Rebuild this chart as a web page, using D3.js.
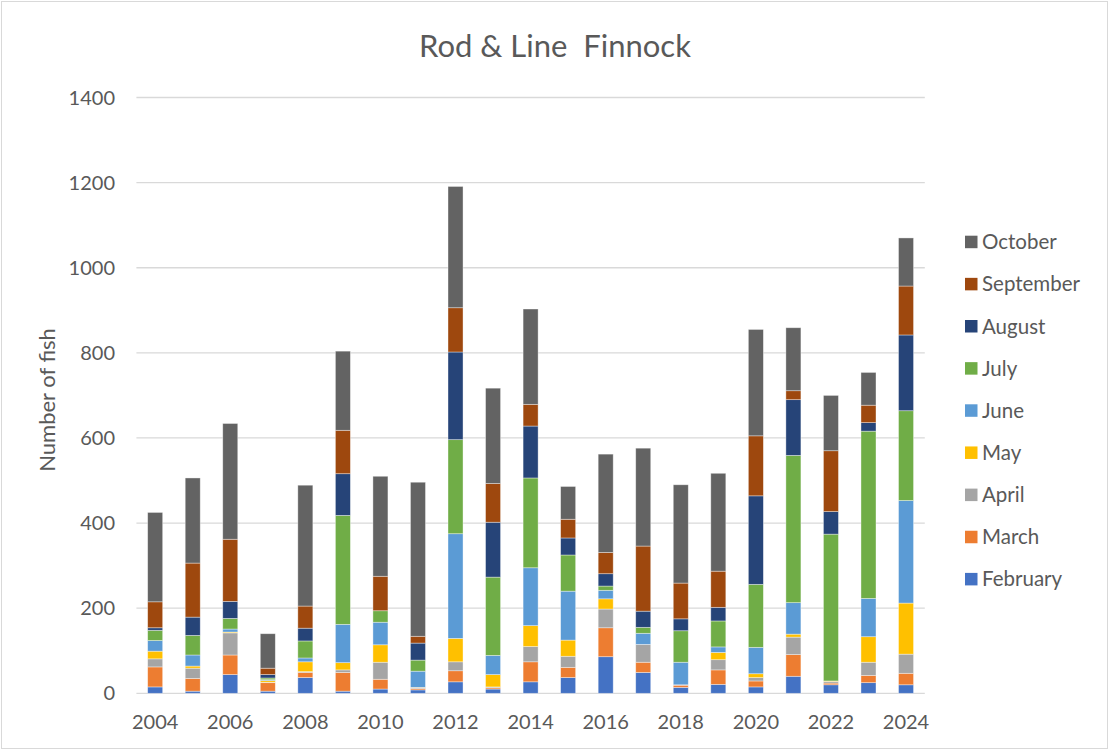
<!DOCTYPE html>
<html>
<head>
<meta charset="utf-8">
<script src="https://cdn.jsdelivr.net/npm/d3@7"></script>
<style>
  body { margin: 0; background: #fff; }
  text { font-family: Lato, "Open Sans", sans-serif; fill: #595959; }
</style>
</head>
<body>
<div class="chart"></div>
<script>
var width = 1110;
var height = 751;

var years = [2004, 2005, 2006, 2007, 2008, 2009, 2010, 2011, 2012, 2013, 2014,
             2015, 2016, 2017, 2018, 2019, 2020, 2021, 2022, 2023, 2024];
var yTicks = [0, 200, 400, 600, 800, 1000, 1200, 1400];

// one array per month, one value per year
var february  = [15, 5, 44, 5, 37, 5, 10, 8, 27, 10, 27, 37, 86, 49, 14, 21, 15, 40, 20, 25, 20];
var march     = [47, 30, 46, 20, 12, 44, 23, 3, 26, 3, 47, 24, 68, 24, 5, 34, 14, 51, 4, 17, 27];
var april     = [19, 24, 52, 1, 2, 6, 40, 2, 21, 2, 36, 26, 44, 42, 1, 24, 8, 41, 4, 31, 45];
var may       = [18, 5, 2, 4, 23, 17, 41, 1, 55, 29, 49, 38, 24, 0, 0, 17, 9, 7, 1, 60, 120];
var june      = [25, 26, 7, 2, 9, 90, 53, 38, 246, 45, 136, 115, 20, 26, 53, 13, 62, 74, 0, 90, 241];
var july      = [24, 46, 25, 4, 40, 256, 27, 26, 221, 184, 211, 85, 10, 14, 74, 61, 148, 346, 345, 393, 211];
var august    = [6, 43, 40, 8, 30, 98, 0, 40, 206, 129, 122, 40, 29, 38, 28, 32, 208, 131, 53, 20, 178];
var september = [61, 127, 146, 15, 52, 102, 81, 16, 104, 91, 51, 44, 50, 153, 84, 85, 141, 21, 143, 41, 115];
var october   = [210, 200, 272, 81, 284, 186, 235, 362, 285, 224, 224, 77, 231, 230, 231, 230, 250, 148, 130, 77, 113];

var months = ['February', 'March', 'April', 'May', 'June', 'July', 'August', 'September', 'October'];
var series = [february, march, april, may, june, july, august, september, october];
var colors = ['#4472C4', '#ED7D31', '#A5A5A5', '#FFC000', '#5B9BD5', '#70AD47', '#264478', '#9E480E', '#636363'];

var rows = years.map(function(y, i) {
	var r = { year: y };
	months.forEach(function(m, j) { r[m] = series[j][i]; });
	return r;
});

var svg = d3.select('.chart')
	.append('svg')
	.attr('width', width)
	.attr('height', height);

// chart border
svg.append('rect')
	.attr('x', 1.5).attr('y', 1.5)
	.attr('width', 1106).attr('height', 747)
	.attr('fill', 'none')
	.attr('stroke', '#d9d9d9');

var plotLeft = 136.4, plotRight = 924.8, plotTop = 97.5, plotBottom = 693.3;

var x = d3.scaleBand()
	.domain(years)
	.range([plotLeft, plotRight])
	.paddingInner(0.6)
	.paddingOuter(0.3);

var y = d3.scaleLinear().domain([0, 1400]).range([plotBottom, plotTop]);

// gridlines
svg.append('g')
	.selectAll('line')
	.data(yTicks)
	.enter().append('line')
	.attr('x1', plotLeft).attr('x2', plotRight)
	.attr('y1', function(d){ return y(d) })
	.attr('y2', function(d){ return y(d) })
	.attr('stroke', '#d9d9d9')
	.attr('stroke-width', 1.3);

// y tick labels
svg.append('g')
	.selectAll('text')
	.data(yTicks)
	.enter().append('text')
	.attr('x', 115)
	.attr('y', function(d){ return y(d) + 7 })
	.attr('text-anchor', 'end')
	.attr('font-size', '20px')
	.text(function(d){ return d });

// stacked bars
var stack = d3.stack().keys(months);
var layers = stack(rows);

svg.append('g')
	.selectAll('g')
	.data(layers)
	.enter().append('g')
	.attr('fill', function(d, i){ return colors[i] })
	.selectAll('rect')
	.data(function(d){ return d })
	.enter().append('rect')
	.attr('x', function(d){ return x(d.data.year) })
	.attr('width', x.bandwidth())
	.attr('y', function(d){ return y(d[1]) })
	.attr('height', function(d){ return y(d[0]) - y(d[1]) })
	.attr('stroke', '#ffffff')
	.attr('stroke-opacity', 0.5)
	.attr('stroke-width', 0.75);

// x labels, every other year
svg.append('g')
	.selectAll('text')
	.data(years.filter(function(d, i){ return i % 2 === 0 }))
	.enter().append('text')
	.attr('x', function(d){ return x(d) + x.bandwidth() / 2 })
	.attr('y', 729)
	.attr('text-anchor', 'middle')
	.attr('font-size', '20px')
	.text(function(d){ return d });

// axis title
svg.append('text')
	.attr('transform', 'translate(55,400) rotate(-90)')
	.attr('text-anchor', 'middle')
	.attr('font-size', '22px')
	.text('Number of fish');

// chart title
svg.append('text')
	.attr('x', 555)
	.attr('y', 57)
	.attr('text-anchor', 'middle')
	.attr('font-size', '31px')
	.style('white-space', 'pre')
	.text('Rod & Line  Finnock');

// legend, October on top
var legend = svg.append('g')
	.selectAll('g')
	.data(months.slice().reverse())
	.enter().append('g')
	.attr('transform', function(d, i){ return 'translate(965,' + (241.7 + i * 42.15) + ')' });

legend.append('rect')
	.attr('x', 0).attr('y', -6)
	.attr('width', 12.5).attr('height', 12.5)
	.attr('fill', function(d){ return colors[months.indexOf(d)] });

legend.append('text')
	.attr('x', 17)
	.attr('y', 7.5)
	.attr('font-size', '20.5px')
	.text(function(d){ return d });
</script>
</body>
</html>
